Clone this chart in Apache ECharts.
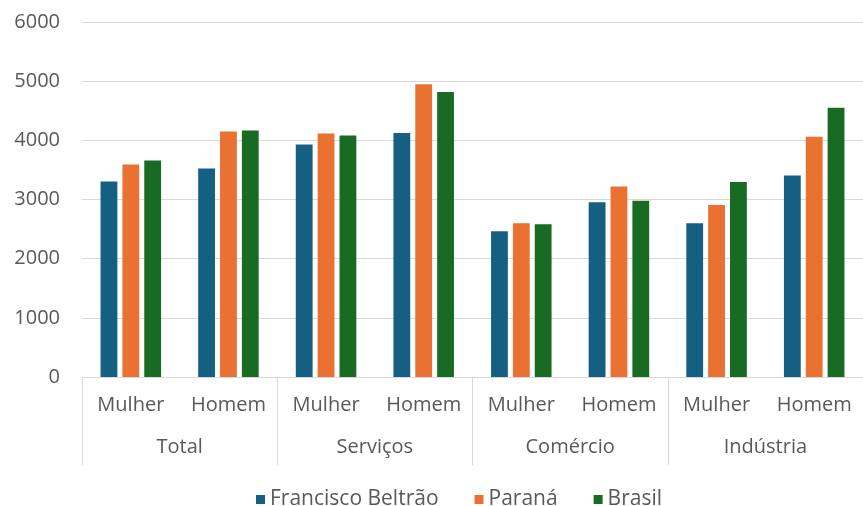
<!DOCTYPE html>
<html>
<head>
<meta charset="utf-8">
<script src="https://cdn.jsdelivr.net/npm/echarts@6/dist/echarts.min.js"></script>
<style>
  html, body { margin: 0; padding: 0; background: #ffffff; }
  #chart { width: 863px; height: 506px; }
</style>
</head>
<body>
<div id="chart"></div>
<script>
// Salário médio por setor e sexo
const groups = ['Total', 'Serviços', 'Comércio', 'Indústria'];
const subLabels = ['Mulher', 'Homem', 'Mulher', 'Homem', 'Mulher', 'Homem', 'Mulher', 'Homem'];
const yTicks = [0, 1000, 2000, 3000, 4000, 5000, 6000];

const franciscoBeltrao = [3305, 3525, 3930, 4125, 2465, 2955, 2600, 3405];
const parana           = [3590, 4150, 4115, 4950, 2600, 3220, 2905, 4060];
const brasil           = [3660, 4165, 4080, 4815, 2580, 2980, 3295, 4550];

const textColor = '#595959';
const lineColor = '#d9d9d9';
const fontFamily = '"Open Sans", "Noto Sans", sans-serif';
const fontSize = 20;

const chart = echarts.init(document.getElementById('chart'), null, { renderer: 'canvas' });

const barSeries = (name, data, color) => ({
  name,
  type: 'bar',
  xAxisIndex: 0,
  data,
  itemStyle: { color },
  barGap: '30%',
  barCategoryGap: '38%'
});

chart.setOption({
  animation: false,
  backgroundColor: '#ffffff',
  textStyle: { fontFamily },
  grid: { left: 82, right: -4, top: 22, bottom: 129, containLabel: false },
  legend: {
    left: 251,
    top: 484,
    padding: 5,
    icon: 'rect',
    itemWidth: 9,
    itemHeight: 9,
    itemGap: 36,
    textStyle: { color: textColor, fontSize: 21, fontFamily },
    data: ['Francisco Beltrão', 'Paraná', 'Brasil']
  },
  xAxis: [
    {
      type: 'category',
      position: 'bottom',
      data: subLabels,
      axisLine: { show: true, lineStyle: { color: lineColor, width: 1 } },
      axisTick: { show: false },
      axisLabel: { color: textColor, fontSize, margin: 18, interval: 0, fontFamily },
      splitLine: { show: false }
    },
    {
      type: 'category',
      position: 'bottom',
      data: groups,
      axisLine: { show: false },
      axisTick: { show: true, length: 88, lineStyle: { color: lineColor, width: 1 } },
      axisLabel: { color: textColor, fontSize, margin: 60, interval: 0, fontFamily },
      splitLine: { show: false }
    }
  ],
  yAxis: {
    type: 'value',
    min: yTicks[0],
    max: yTicks[yTicks.length - 1],
    interval: yTicks[1] - yTicks[0],
    axisLine: { show: false },
    axisTick: { show: false },
    axisLabel: { color: textColor, fontSize, margin: 22, fontFamily, formatter: (v) => String(v) },
    splitLine: { lineStyle: { color: lineColor, width: 1 } }
  },
  series: [
    barSeries('Francisco Beltrão', franciscoBeltrao, '#156082'),
    barSeries('Paraná', parana, '#e97132'),
    barSeries('Brasil', brasil, '#196b24')
  ]
});
</script>
</body>
</html>
